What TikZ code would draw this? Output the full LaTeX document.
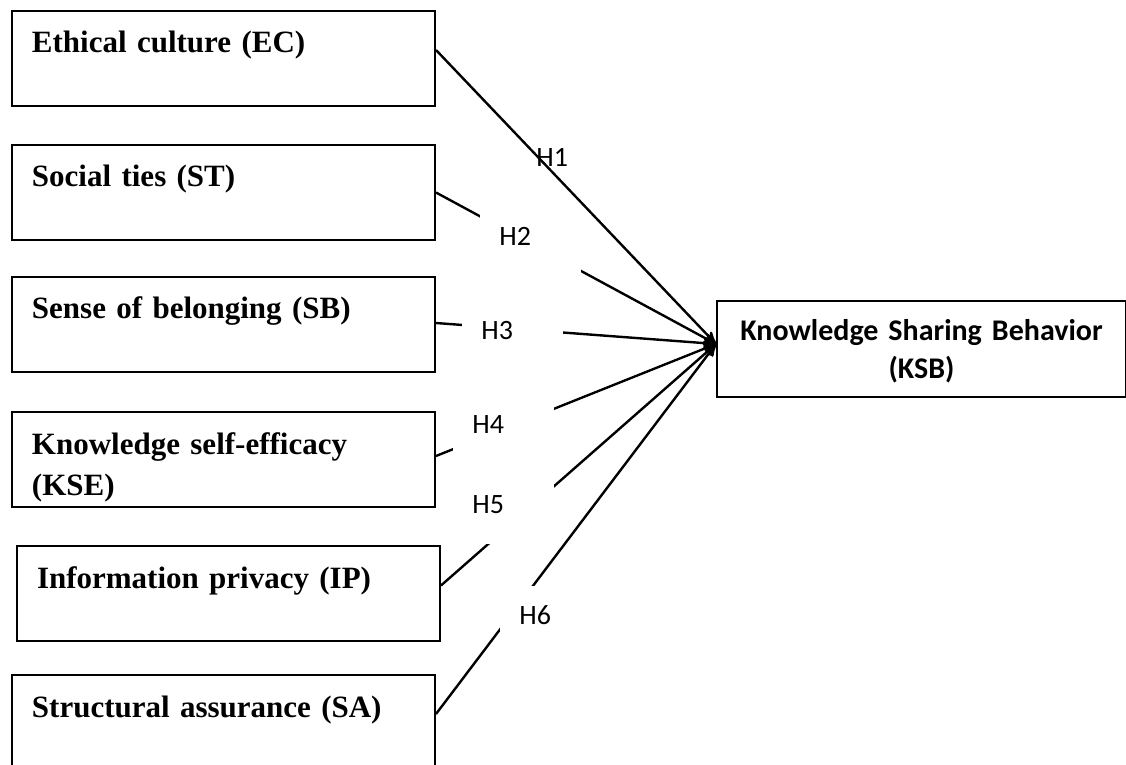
\documentclass[tikz,border=0pt]{standalone}
\usepackage{fontspec}
\setmainfont{Liberation Serif}
\newfontfamily\calibri{Carlito}
\usetikzlibrary{arrows}

\begin{document}
\begin{tikzpicture}[x=0.5pt,y=-0.5pt,>=stealth']
    \tikzstyle{construct}=[draw, line width=1pt, anchor=north west, inner xsep=10pt, inner ysep=0pt, text width=191.5pt, align=left, text height=21pt, text depth=26.5pt, font=\bfseries\fontsize{15.5}{20.5}\selectfont]
    \tikzstyle{outcome}=[draw, line width=1pt, anchor=north west, inner sep=0pt, text width=204.5pt, align=center, text height=20pt, text depth=28pt, font=\calibri\bfseries\fontsize{15}{19}\selectfont]
    \tikzstyle{hyp}=[anchor=north west, inner xsep=9.5pt, inner ysep=0pt, text width=31.5pt, align=left, text height=19pt, text depth=15.5pt, font=\calibri\fontsize{14}{17}\selectfont]
    \tikzstyle{hypbox}=[style=hyp, fill=white]

    \useasboundingbox (0,0) rectangle (1126,765);

    \node[construct] (ec)  at (11,10)  {Ethical culture (EC)};
    \node[construct] (st)  at (11,144) {Social ties (ST)};
    \node[construct] (sb)  at (11,276) {Sense of belonging (SB)};
    \node[construct] (kse) at (11,411) {Knowledge self-efficacy\\(KSE)};
    \node[construct] (ip)  at (16,545) {Information privacy (IP)};
    \node[construct] (sa)  at (11,674) {Structural assurance (SA)};
    \node[outcome]   (ksb) at (716,300) {Knowledge Sharing Behavior\\(KSB)};
    \coordinate (tip) at ([yshift=2.5pt]ksb.west);

    \path[->, line width=1.2pt]
     ([yshift=4.25pt]ec.east)  edge (tip)
     (st.east)                 edge (tip)
     ([yshift=0.75pt]sb.east)  edge (tip)
     ([yshift=1.75pt]kse.east) edge (tip)
     ([yshift=4pt]ip.east)     edge (tip)
     ([yshift=4.25pt]sa.east)  edge (tip)
     ;

    \node[hyp]    (h1) at (517,128) {H1};
    \node[hypbox] (h2) at (480,207) {H2};
    \node[hypbox] (h3) at (462,301) {H3};
    \node[hypbox] (h4) at (453,395) {H4};
    \node[hypbox] (h5) at (453,475) {H5};
    \node[hypbox] (h6) at (500,586) {H6};
\end{tikzpicture}
\end{document}
